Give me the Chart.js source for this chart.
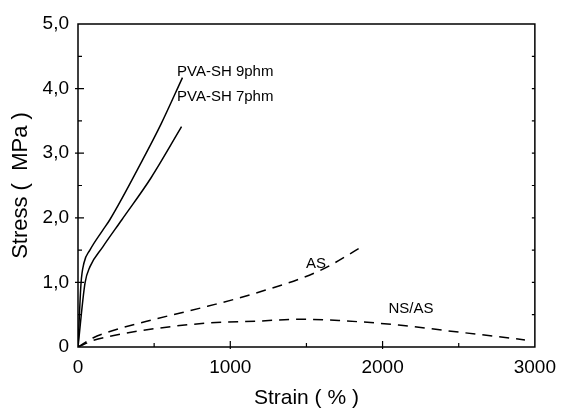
<!DOCTYPE html>
<html>
<head>
<meta charset="utf-8">
<script src="https://cdn.jsdelivr.net/npm/chart.js@4"></script>
<style>
  html, body { margin: 0; padding: 0; background: #fff; }
</style>
</head>
<body>
<canvas id="stressChart" width="565" height="411"></canvas>
<script>
// Stress-strain curves
const pva9Strain = [0, 20, 39, 78, 163, 209, 425, 545, 686];
const pva9Stress = [0, 0.99, 1.30, 1.50, 1.81, 1.97, 2.90, 3.45, 4.17];

const pva7Strain = [0, 46, 78, 163, 288, 480, 680];
const pva7Stress = [0, 0.99, 1.24, 1.55, 1.97, 2.62, 3.41];

const asStrain = [0, 98, 196, 523, 850, 1176, 1595, 1863];
const asStress = [0, 0.14, 0.23, 0.44, 0.63, 0.84, 1.19, 1.55];

const nsasStrain = [0, 98, 196, 523, 850, 1176, 1451, 1712, 2105, 2431, 2935];
const nsasStress = [0, 0.10, 0.16, 0.29, 0.37, 0.40, 0.43, 0.41, 0.34, 0.25, 0.11];

const seriesNames = ['PVA-SH 9phm', 'PVA-SH 7phm', 'AS', 'NS/AS'];

// Axis tick labels (comma decimals)
const stressTicks = ['0', '1,0', '2,0', '3,0', '4,0', '5,0'];
const strainTicks = ['0', '1000', '2000', '3000'];

const FONT = 'Liberation Sans, Arial, Helvetica, sans-serif';

function toPoints(xs, ys) {
    return xs.map((x, i) => ({ x: x, y: ys[i] }));
}

// where each curve name is written, in data units (left edge, baseline)
const nameAnchors = [
    { x: 650, y: 4.19 },
    { x: 650, y: 3.81 },
    { x: 1497, y: 1.22 },
    { x: 2039, y: 0.53 }
];

// box frame + inward tick marks + curve names
const framePlugin = {
    id: 'frame',
    afterDatasetsDraw(chart) {
        const { ctx, chartArea: a, scales } = chart;
        const xs = scales.x, ys = scales.y;
        ctx.save();
        ctx.strokeStyle = '#000';
        ctx.lineWidth = 1.5;
        ctx.strokeRect(a.left, a.top, a.right - a.left, a.bottom - a.top);

        ctx.lineWidth = 1.2;
        ctx.beginPath();
        // y ticks: majors every 1.0, minors every 0.5
        for (let v = 0.5; v < 5; v += 0.5) {
            const py = ys.getPixelForValue(v);
            const major = Math.abs(v - Math.round(v)) < 1e-6;
            const len = major ? 6 : 4;
            ctx.moveTo(a.left - (major ? 3 : 0), py);
            ctx.lineTo(a.left + len, py);
            ctx.moveTo(a.right, py);
            ctx.lineTo(a.right - 3, py);
        }
        // x ticks: majors every 1000, minors every 500
        for (let v = 500; v < 3000; v += 500) {
            const px = xs.getPixelForValue(v);
            const major = v % 1000 === 0;
            ctx.moveTo(px, a.bottom + (major ? 2 : 0));
            ctx.lineTo(px, a.bottom - (major ? 6 : 4));
        }
        ctx.stroke();

        ctx.fillStyle = '#000';
        ctx.font = '15px ' + FONT;
        ctx.textAlign = 'left';
        ctx.textBaseline = 'alphabetic';
        seriesNames.forEach((name, i) => {
            const p = nameAnchors[i];
            ctx.fillText(name, xs.getPixelForValue(p.x), ys.getPixelForValue(p.y));
        });
        ctx.restore();
    }
};

const solid = { borderColor: '#000', borderWidth: 1.5, pointRadius: 0, fill: false, cubicInterpolationMode: 'monotone' };
const dashed = Object.assign({}, solid, { borderDash: [10, 7] });

const ctx = document.getElementById('stressChart').getContext('2d');
const stressChart = new Chart(ctx, {
    type: 'line',
    data: {
        datasets: [
            Object.assign({ label: seriesNames[0], data: toPoints(pva9Strain, pva9Stress) }, solid),
            Object.assign({ label: seriesNames[1], data: toPoints(pva7Strain, pva7Stress) }, solid),
            Object.assign({ label: seriesNames[2], data: toPoints(asStrain, asStress) }, dashed),
            Object.assign({ label: seriesNames[3], data: toPoints(nsasStrain, nsasStress) }, dashed)
        ]
    },
    options: {
        responsive: false,
        animation: false,
        layout: { padding: { top: 24, right: 28, left: 0, bottom: 0 } },
        plugins: {
            legend: { display: false },
            tooltip: { enabled: false }
        },
        scales: {
            x: {
                type: 'linear',
                min: 0,
                max: 3000,
                grid: { display: false, drawTicks: false },
                border: { display: false },
                ticks: {
                    stepSize: 1000,
                    padding: 9,
                    color: '#000',
                    font: { family: FONT, size: 19 },
                    maxRotation: 0,
                    callback: (v, i) => strainTicks[i]
                },
                title: {
                    display: true,
                    text: 'Strain ( % )',
                    color: '#000',
                    font: { family: FONT, size: 21 },
                    padding: { top: 0, bottom: 0 }
                },
                afterFit: (s) => { s.height = 64; }
            },
            y: {
                min: 0,
                max: 5,
                grid: { display: false, drawTicks: false },
                border: { display: false },
                ticks: {
                    stepSize: 1,
                    padding: 9,
                    color: '#000',
                    font: { family: FONT, size: 19 },
                    callback: (v, i) => stressTicks[i]
                },
                title: {
                    display: true,
                    text: 'Stress (  MPa )',
                    color: '#000',
                    font: { family: FONT, size: 22 },
                    padding: { top: 8, bottom: 0 }
                },
                afterFit: (s) => { s.width = 78; }
            }
        }
    },
    plugins: [framePlugin]
});
</script>
</body>
</html>
